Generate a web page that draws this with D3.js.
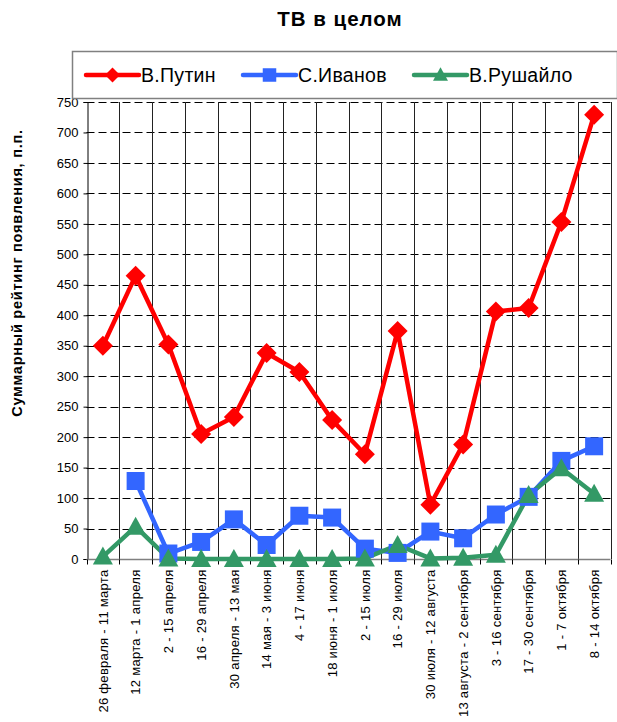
<!DOCTYPE html>
<html><head><meta charset="utf-8">
<script src="https://cdn.jsdelivr.net/npm/d3@7"></script>
<style>body{margin:0;background:#fff}svg{display:block;font-family:"Liberation Sans",Arial,sans-serif}</style>
</head><body>
<svg id="c" width="617" height="722"></svg>
<script>
const categories = ["26 февраля - 11 марта","12 марта - 1 апреля","2 - 15 апреля","16 - 29 апреля","30 апреля - 13 мая","14 мая - 3 июня","4 - 17 июня","18 июня - 1 июля","2 - 15 июля","16 - 29 июля","30 июля - 12 августа","13 августа - 2 сентября","3 - 16 сентября","17 - 30 сентября","1 - 7 октября","8 - 14 октября"];
const putin = [350, 465, 352, 205, 233, 338, 307, 228, 172, 374, 89, 188, 406, 412, 553, 729];
const ivanov = [null, 128, 9, 28, 65, 23, 71, 68, 17, 10, 45, 34, 73, 102, 161, 185];
const rushaylo = [4, 53, 1, 0, 0, 0, 0, 0, 1, 23, 1, 2, 7, 105, 149, 107];
const yTicks = [0,50,100,150,200,250,300,350,400,450,500,550,600,650,700,750];
const seriesNames = ["В.Путин","С.Иванов","В.Рушайло"];
const colors = ["#FF0000","#3366FF","#339966"];
const title = "ТВ в целом";
const yTitle = "Суммарный рейтинг появления, п.п.";

const svg = d3.select("#c");
const L = 86.5, R = 610.5, T = 102, B = 559;
const x = d3.scaleBand().domain(categories).range([L, R]);
const y = d3.scaleLinear().domain([0, 750]).range([B, T]);

// horizontal dashed grid
svg.append("g").selectAll("line").data(yTicks.filter(d=>d>0)).join("line")
  .attr("x1", L).attr("x2", R).attr("y1", d=>Math.round(y(d))+0.5).attr("y2", d=>Math.round(y(d))+0.5)
  .attr("stroke", "#000").attr("stroke-width", 1).attr("stroke-dasharray", "8,4");
// vertical grid lines at category boundaries
const bounds = categories.map(c => x(c)).concat([R]);
svg.append("g").selectAll("line").data(bounds.slice(1)).join("line")
  .attr("x1", d=>Math.round(d)+0.5).attr("x2", d=>Math.round(d)+0.5).attr("y1", T).attr("y2", B)
  .attr("stroke", "#222").attr("stroke-width", 1);

// y axis
const yAxis = d3.axisLeft(y).tickValues(yTicks).tickSize(4).tickPadding(5);
const gy = svg.append("g").attr("transform", `translate(${Math.round(L)+0.5},0)`).call(yAxis);
gy.select(".domain").attr("stroke", "#000");
gy.selectAll(".tick line").attr("stroke", "#000");
gy.selectAll("text").attr("font-size", 13).attr("fill", "#000").attr("font-family", "Liberation Sans, Arial, sans-serif");

// x axis
const gx = svg.append("g").attr("transform", `translate(0,${B+0.5})`);
gx.append("line").attr("x1", L).attr("x2", R).attr("y1", 0).attr("y2", 0).attr("stroke", "#808080").attr("stroke-width", 1.5);
gx.selectAll("line.tk").data(bounds).join("line").attr("class","tk")
  .attr("x1", d=>Math.round(d)+0.5).attr("x2", d=>Math.round(d)+0.5).attr("y1", 0).attr("y2", 5).attr("stroke", "#000");
gx.selectAll("text").data(categories).join("text")
  .attr("transform", d => `translate(${x(d)+x.bandwidth()/2+4.8},10) rotate(-90)`)
  .attr("text-anchor", "end").attr("font-size", 13).attr("letter-spacing", 0.3).attr("fill", "#000").text(d=>d);

// series
const all = [putin, ivanov, rushaylo];
const line = d3.line().defined(d=>d!=null).x((d,i)=>x(categories[i])+x.bandwidth()/2).y(d=>y(d));
all.forEach((s,k)=>{
  svg.append("path").datum(s).attr("d", line).attr("fill","none").attr("stroke", colors[k])
    .attr("stroke-width", 4.5).attr("stroke-linejoin","round");
});
function marker(g, k, cx, cy, sc){
  sc = sc || 1;
  if (k===0){
    const r = 10*sc;
    g.append("path").attr("d", `M${cx},${cy-r}L${cx+r},${cy}L${cx},${cy+r}L${cx-r},${cy}Z`).attr("fill", colors[0]);
  } else if (k===1){
    const h = 9*sc;
    g.append("rect").attr("x", cx-h).attr("y", cy-h).attr("width", 2*h).attr("height", 2*h).attr("fill", colors[1]);
  } else {
    const w = 10*sc, hh = 9*sc;
    g.append("path").attr("d", `M${cx},${cy-hh-1}L${cx+w},${cy+hh-1}L${cx-w},${cy+hh-1}Z`).attr("fill", colors[2]);
  }
}
all.forEach((s,k)=>{
  const g = svg.append("g");
  s.forEach((v,i)=>{ if (v!=null) marker(g, k, x(categories[i])+x.bandwidth()/2, y(v)); });
});

// title
svg.append("text").attr("x", 340).attr("y", 26).attr("text-anchor","middle").attr("font-size", 20.5)
  .attr("font-weight","bold").attr("letter-spacing", 1).text(title);
// y title
svg.append("text").attr("transform", "translate(22,273) rotate(-90)").attr("text-anchor","middle")
  .attr("font-size", 14.5).attr("font-weight","bold").attr("letter-spacing", 0.75).text(yTitle);

// legend
const lg = svg.append("g");
lg.append("rect").attr("x", 72.5).attr("y", 51.5).attr("width", 545).attr("height", 47)
  .attr("fill","#fff").attr("stroke","#808080").attr("stroke-width",1.5);
const lx = [86, 243, 414];
seriesNames.forEach((n,k)=>{
  lg.append("line").attr("x1", lx[k]).attr("x2", lx[k]+53).attr("y1", 75).attr("y2", 75)
    .attr("stroke", colors[k]).attr("stroke-width", 4.5).attr("stroke-linecap","round");
  marker(lg, k, lx[k]+26.5, 75, 0.75);
  lg.append("text").attr("x", lx[k]+55).attr("y", 82).attr("font-size", 19.5).attr("letter-spacing", 0.3).text(n);
});
</script>
</body></html>
